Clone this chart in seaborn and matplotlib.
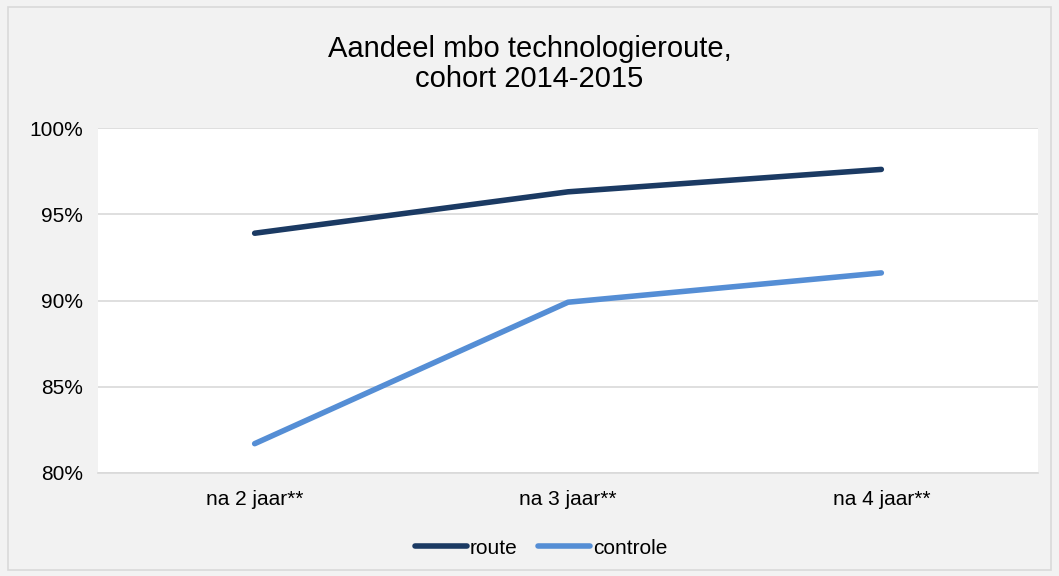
import matplotlib
matplotlib.use("Agg")
import matplotlib.pyplot as plt
import seaborn as sns
import pandas as pd
from matplotlib.patches import Rectangle
from matplotlib.lines import Line2D
from matplotlib.ticker import FuncFormatter

categories = ["na 2 jaar**", "na 3 jaar**", "na 4 jaar**"]
route = [93.9, 96.3, 97.6]
controle = [81.7, 89.9, 91.6]

df = pd.DataFrame({
    "moment": categories * 2,
    "waarde": route + controle,
    "groep": ["route"] * 3 + ["controle"] * 3,
})

sns.set_theme(style="white")
plt.rcParams["font.family"] = ["Liberation Sans", "DejaVu Sans"]
plt.rcParams["text.color"] = "black"

fig = plt.figure(figsize=(10.59, 5.76), dpi=100)
fig.patch.set_facecolor("#f2f2f2")
fig.patches.append(Rectangle((8 / 1059, 6 / 576), 1043 / 1059, 563 / 576,
                             transform=fig.transFigure, fill=False,
                             edgecolor="#d9d9d9", linewidth=1.2))

ax = fig.add_axes([98 / 1059, 1 - 473 / 576, 940 / 1059, 345 / 576])
ax.set_facecolor("white")

sns.lineplot(data=df, x="moment", y="waarde", hue="groep",
             palette={"route": "#1b3a63", "controle": "#558ed5"},
             linewidth=4, solid_capstyle="round", ax=ax, legend=False)

ax.set_xlim(-0.5, 2.5)
ax.set_ylim(80, 100)
ax.set_yticks([80, 85, 90, 95, 100])
ax.yaxis.set_major_formatter(FuncFormatter(lambda v, p: f"{v:.0f}%"))
ax.grid(axis="y", color="#d9d9d9", linewidth=1.2)
ax.set_axisbelow(True)
for s in ["top", "right", "left"]:
    ax.spines[s].set_visible(False)
ax.spines["bottom"].set_color("#d9d9d9")
ax.spines["bottom"].set_linewidth(1.2)
ax.tick_params(axis="both", length=0, labelsize=15, colors="black", pad=12)
ax.tick_params(axis="y", pad=11)
ax.set_xlabel("")
ax.set_ylabel("")

fig.text(0.5, 1 - 64 / 576, "Aandeel mbo technologieroute,\ncohort 2014-2015",
         ha="center", va="center", fontsize=21, linespacing=1.1, color="black")

handles = [Line2D([], [], color="#1b3a63", linewidth=4, solid_capstyle="round"),
           Line2D([], [], color="#558ed5", linewidth=4, solid_capstyle="round")]
fig.legend(handles, ["route", "controle"], loc="center",
           bbox_to_anchor=(541 / 1059, 1 - 548 / 576), ncol=2, frameon=False,
           fontsize=15, handlelength=2.5, handletextpad=0.12, columnspacing=1.0,
           labelcolor="black")

fig.savefig("out.png", dpi=100, facecolor=fig.get_facecolor())
